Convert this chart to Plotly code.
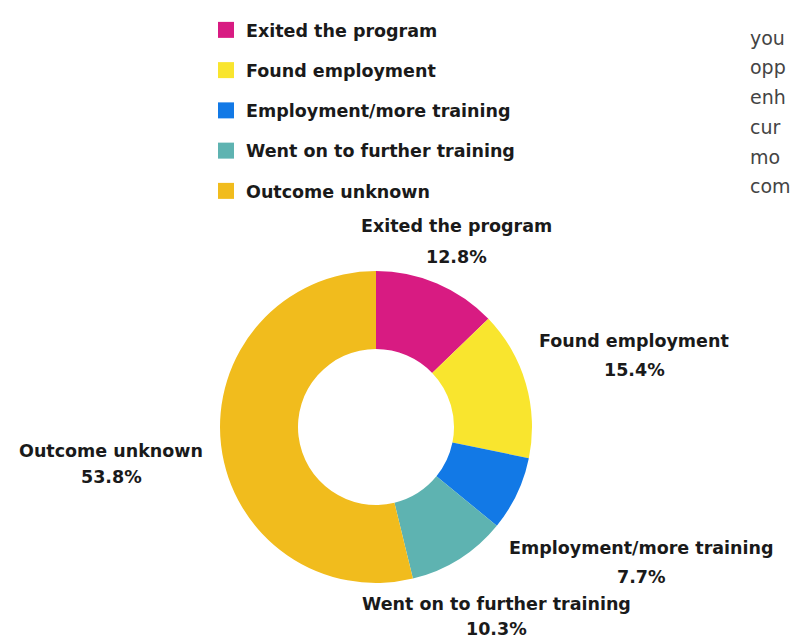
import plotly.graph_objects as go

# ---- data ----
categories = [
    "Exited the program",
    "Found employment",
    "Employment/more training",
    "Went on to further training",
    "Outcome unknown",
]
percentages = [12.8, 15.4, 7.7, 10.3, 53.8]
colors = ["#D81B82", "#F9E52E", "#1279E6", "#5EB3B1", "#F1BC1D"]
side_text = ["you", "opp", "enh", "cur", "mo", "com"]

# ---- layout helpers (pixels) ----
W, H = 795, 641
cx, cy, r = 376, 427, 156
LABEL_FONT = dict(family="DejaVu Sans", size=17.5, color="#1a1a1a", weight="bold")

# label positions: (x center, name y, percent y) in pixels
label_pos = [
    (456, 226, 257),
    (634, 341, 370),
    (641, 548, 577),
    (496, 604, 629),
    (111, 451, 477),
]
side_y = [38, 67, 97, 127, 157, 186]


def px(x):
    return x / W


def py(y):
    return 1 - y / H


fig = go.Figure()
fig.add_trace(
    go.Pie(
        labels=categories,
        values=percentages,
        hole=0.5,
        sort=False,
        direction="clockwise",
        rotation=0,
        marker=dict(colors=colors, line=dict(color="white", width=0)),
        textinfo="none",
        showlegend=False,
        domain=dict(x=[px(cx - r), px(cx + r)], y=[py(cy + r), py(cy - r)]),
        hoverinfo="label+percent",
    )
)

for i, (cat, col) in enumerate(zip(categories, colors)):
    fig.add_trace(
        go.Scatter(
            x=[None], y=[None], mode="markers", name=cat,
            legendgroup=f"g{i}",
            marker=dict(symbol="square", size=16, color=col),
            showlegend=True,
        )
    )

total = sum(percentages)
annotations = []
for cat, val, (lx, ny, pyy) in zip(categories, percentages, label_pos):
    annotations.append(dict(
        x=px(lx), y=py(ny), xref="paper", yref="paper", text=cat,
        showarrow=False, xanchor="center", yanchor="middle", font=LABEL_FONT,
    ))
    annotations.append(dict(
        x=px(lx), y=py(pyy), xref="paper", yref="paper",
        text=f"{val / total * 100:.1f}%",
        showarrow=False, xanchor="center", yanchor="middle", font=LABEL_FONT,
    ))

for t, yy in zip(side_text, side_y):
    annotations.append(dict(
        x=px(748), y=py(yy), xref="paper", yref="paper", text=t,
        showarrow=False, xanchor="left", yanchor="middle",
        font=dict(family="DejaVu Sans", size=19, color="#444444"),
    ))

fig.update_layout(
    width=W, height=H,
    margin=dict(l=0, r=0, t=0, b=0),
    paper_bgcolor="white", plot_bgcolor="white",
    xaxis=dict(visible=False), yaxis=dict(visible=False),
    showlegend=True,
    legend=dict(
        x=px(206), y=py(12), xanchor="left", yanchor="top",
        font=dict(family="DejaVu Sans", size=17.5, color="#1a1a1a", weight="bold"),
        tracegroupgap=14.5, traceorder="grouped",
        bgcolor="rgba(0,0,0,0)",
    ),
    annotations=annotations,
)

fig.write_html(
    "out.html",
    config={"displayModeBar": False},
    post_script="document.body.style.margin='0';document.body.style.padding='0';",
)
